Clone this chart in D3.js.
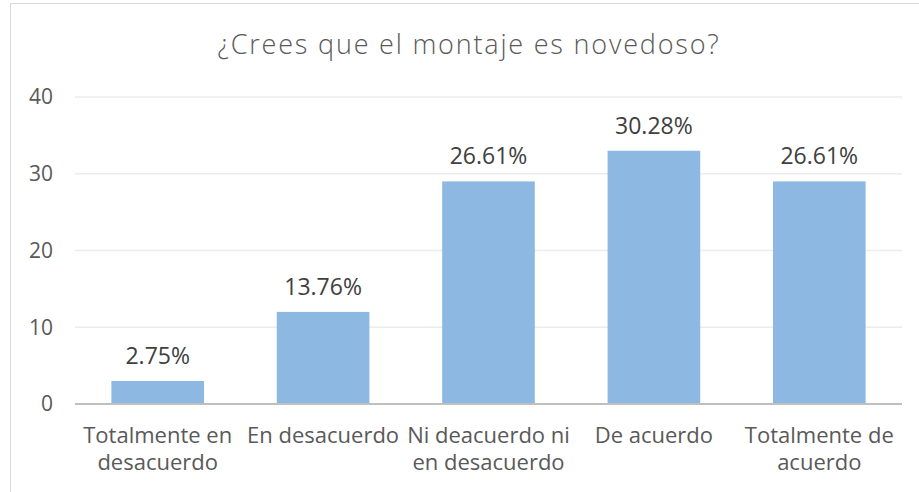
<!DOCTYPE html>
<html>
<head>
<meta charset="utf-8">
<script src="https://cdn.jsdelivr.net/npm/d3@7"></script>
<style>
  body { margin: 0; background: #fff; }
  text { font-family: "Open Sans", "Liberation Sans", sans-serif; fill: #595959; }
</style>
</head>
<body>
<div id="chart"></div>
<script>
var w = 919;
var h = 492;

var categories = ["Totalmente en|desacuerdo", "En desacuerdo", "Ni deacuerdo ni|en desacuerdo", "De acuerdo", "Totalmente de|acuerdo"];
var values = [3, 12, 29, 33, 29];
var labels = ["2.75%", "13.76%", "26.61%", "30.28%", "26.61%"];
var yTicks = [0, 10, 20, 30, 40];

var margin = { left: 75, right: 17, top: 97, bottom: 88 };

var svg = d3.select("#chart")
    .append("svg")
    .attr("width", w)
    .attr("height", h);

// chart frame
svg.append("rect")
    .attr("x", 10.5)
    .attr("y", 3.5)
    .attr("width", w + 10)
    .attr("height", h + 10)
    .attr("fill", "white")
    .attr("stroke", "#d9d9d9");

var x = d3.scaleBand()
    .domain(categories)
    .range([margin.left, w - margin.right])
    .paddingInner(0.44)
    .paddingOuter(0.22);

var y = d3.scaleLinear()
    .domain([0, 40])
    .range([h - margin.bottom, margin.top]);

// gridlines
svg.selectAll(".grid")
    .data(yTicks.slice(1))
    .enter()
    .append("line")
    .attr("x1", margin.left)
    .attr("x2", w - margin.right)
    .attr("y1", function(d) { return y(d); })
    .attr("y2", function(d) { return y(d); })
    .attr("stroke", "#ececec")
    .attr("stroke-width", 1.5);

// y tick labels
svg.selectAll(".ytick")
    .data(yTicks)
    .enter()
    .append("text")
    .attr("x", 53)
    .attr("y", function(d) { return y(d); })
    .attr("dy", "0.35em")
    .attr("text-anchor", "end")
    .style("font-size", "21px")
    .text(function(d) { return d; });

// bars
svg.selectAll(".bar")
    .data(values)
    .enter()
    .append("rect")
    .attr("x", function(d, i) { return x(categories[i]); })
    .attr("y", function(d) { return y(d); })
    .attr("width", x.bandwidth())
    .attr("height", function(d) { return y(0) - y(d); })
    .attr("fill", "#8cb8e2");

// axis line
svg.append("line")
    .attr("x1", margin.left)
    .attr("x2", w - margin.right)
    .attr("y1", y(0))
    .attr("y2", y(0))
    .attr("stroke", "#bfbfbf")
    .attr("stroke-width", 2);

// value labels
svg.selectAll(".val")
    .data(values)
    .enter()
    .append("text")
    .attr("x", function(d, i) { return x(categories[i]) + x.bandwidth() / 2; })
    .attr("y", function(d) { return y(d) - 17; })
    .attr("text-anchor", "middle")
    .style("font-size", "23px")
    .style("fill", "#404040")
    .text(function(d, i) { return labels[i]; });

// category labels
svg.selectAll(".cat")
    .data(categories)
    .enter()
    .append("text")
    .attr("x", function(d) { return x(d) + x.bandwidth() / 2; })
    .attr("y", y(0) + 39)
    .attr("text-anchor", "middle")
    .style("font-size", "22px")
    .each(function(d) {
        var t = d3.select(this);
        d.split("|").forEach(function(line, k) {
            t.append("tspan")
                .attr("x", t.attr("x"))
                .attr("dy", k === 0 ? 0 : 27)
                .text(line);
        });
    });

// title
svg.append("text")
    .attr("x", 469)
    .attr("y", 54)
    .attr("text-anchor", "middle")
    .style("font-size", "27px")
    .style("font-weight", 300)
    .style("letter-spacing", "1.8px")
    .text("¿Crees que el montaje es novedoso?");
</script>
</body>
</html>
